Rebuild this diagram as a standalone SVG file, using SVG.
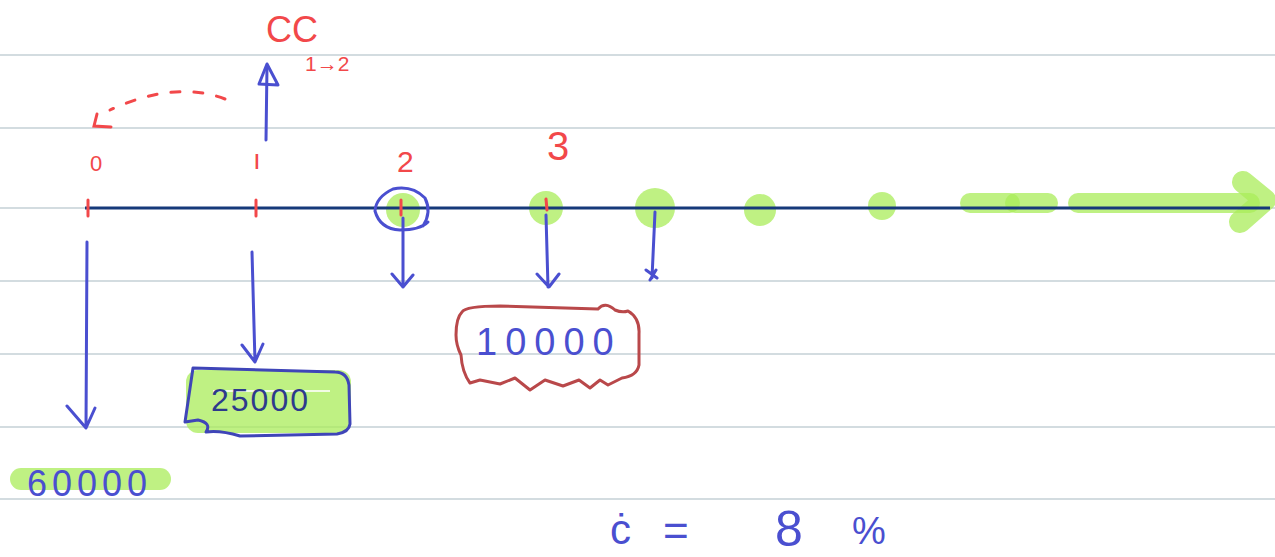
<svg xmlns="http://www.w3.org/2000/svg" width="1275" height="557" viewBox="0 0 1275 557">
<style>
.rule{stroke:#c5d1d6;stroke-width:1.5}
.red{fill:#f2484a;font-family:"Liberation Sans",sans-serif}
.blu{fill:#4a4fd0;font-family:"Liberation Sans",sans-serif}
.navy{fill:#2d3a8c;font-family:"Liberation Sans",sans-serif}
.tick{stroke:#f2484a;stroke-width:3;stroke-linecap:round}
.arr{stroke:#4a4fd0;stroke-width:3;fill:none;stroke-linecap:round;stroke-linejoin:round}
.hl{fill:#a9ec5a;opacity:0.75}
.hls{stroke:#a9ec5a;opacity:0.75;stroke-linecap:round;fill:none}
</style>
<rect width="1275" height="557" fill="#fff"/>
<g id="paper">
<line class="rule" x1="0" y1="55" x2="1275" y2="55"/>
<line class="rule" x1="0" y1="128" x2="1275" y2="128"/>
<line class="rule" x1="0" y1="208" x2="1275" y2="208"/>
<line class="rule" x1="0" y1="281" x2="1275" y2="281"/>
<line class="rule" x1="0" y1="354" x2="1275" y2="354"/>
<line class="rule" x1="0" y1="427" x2="1275" y2="427"/>
<line class="rule" x1="0" y1="499" x2="1275" y2="499"/>
</g>
<g id="highlights">
<circle class="hl" cx="403" cy="210" r="17"/>
<circle class="hl" cx="546" cy="208" r="17"/>
<circle class="hl" cx="655" cy="208" r="20"/>
<circle class="hl" cx="760" cy="210" r="16"/>
<circle class="hl" cx="882" cy="206" r="14"/>
<line class="hls" x1="970" y1="203" x2="1010" y2="203" stroke-width="20"/>
<line class="hls" x1="1015" y1="203" x2="1048" y2="203" stroke-width="20"/>
<line class="hls" x1="1078" y1="203" x2="1250" y2="203" stroke-width="20"/>
<polyline class="hls" points="1243,182 1265,200 1240,222" stroke-width="22" stroke-linejoin="round"/>
</g>
<g id="axis">
<line x1="85" y1="208" x2="1270" y2="208" stroke="#16397a" stroke-width="3"/>
<line class="tick" x1="88" y1="200" x2="88" y2="216"/>
<line class="tick" x1="256" y1="200" x2="256" y2="216"/>
<line class="tick" x1="401" y1="200" x2="401" y2="215"/>
<line class="tick" x1="546" y1="199" x2="547" y2="210"/>
</g>
<g id="labels">
<text class="red" x="90" y="171" font-size="22">0</text>
<text class="red" x="253" y="169" font-size="28">ı</text>
<text class="red" x="397" y="172" font-size="30">2</text>
<text class="red" x="547" y="160" font-size="40">3</text>
<text class="red" x="266" y="42" font-size="36">CC</text>
<text class="red" x="305" y="71" font-size="21">1→2</text>
</g>
<g id="connectors">
<path d="M225,99 Q175,80 110,110" stroke="#f2484a" stroke-width="3" fill="none" stroke-dasharray="9,14" stroke-linecap="round"/>
<polyline points="97,114 94,126 111,127" stroke="#f2484a" stroke-width="3" fill="none" stroke-linecap="round"/>
<path class="arr" d="M266,140 L267,66"/>
<path class="arr" d="M259,84 L267,64 L278,85 Z"/>
<path class="arr" d="M87,242 L86,428 M67,406 L86,428 L95,408"/>
<path class="arr" d="M252,252 L255,362 M242,345 L255,362 L263,344"/>
<path class="arr" d="M403,218 L403,287 M392,274 L403,287 L413,275"/>
<path class="arr" d="M546,215 L548,287 M537,274 L549,287 L559,274"/>
<path class="arr" d="M655,212 L652,278 M646,270 L657,278 M650,280 L656,270"/>
<path class="arr" d="M423,226 Q432,212 425,198 Q412,185 393,189 Q376,197 375,211 Q380,229 400,230 Q420,230 428,222"/>
</g>
<g id="box25000">
<rect x="186" y="370" width="165" height="63" rx="12" class="hl"/>
<path d="M193,368 L335,372 Q347,372 349,385 L350,424 Q349,432 337,434 L240,436 Q220,430 206,432 Q212,423 198,420 L185,422 Z" stroke="#3f45b8" stroke-width="3" fill="none" stroke-linejoin="round"/>
<line x1="213" y1="391" x2="330" y2="391" stroke="#fff" stroke-width="2" opacity="0.8"/>
<text class="navy" x="211" y="411" font-size="32" letter-spacing="2">25000</text>
</g>
<g id="box10000">
<path d="M462,312 Q466,306 500,306 L598,309 Q605,301 615,310 Q622,313 628,311 Q640,318 639,334 L639,365 Q637,376 622,378 L608,385 L600,380 L590,388 L579,380 L563,386 L545,380 L530,390 L515,378 L500,384 L480,380 L470,383 Q462,372 461,355 Q456,345 456,335 Q456,318 462,312 Z" stroke="#b9484a" stroke-width="3" fill="none" stroke-linejoin="round"/>
<text class="blu" x="476" y="355" font-size="38" letter-spacing="8">10000</text>
</g>
<g id="val60000">
<rect x="10" y="468" width="161" height="22" rx="11" class="hl"/>
<text class="blu" x="27" y="496" font-size="36" letter-spacing="5">60000</text>
</g>
<g id="rate">
<text class="blu" x="610" y="544" font-size="42">ċ</text>
<text class="blu" x="663" y="546" font-size="44">=</text>
<text class="blu" x="775" y="546" font-size="50">8</text>
<text class="blu" x="852" y="544" font-size="38">%</text>
</g>
</svg>
